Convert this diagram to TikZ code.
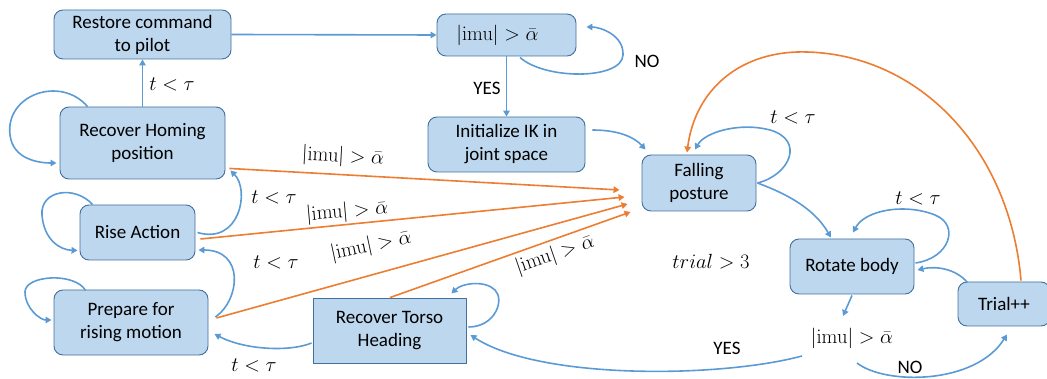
\RequirePackage{fix-cm}
\documentclass[tikz,border=0pt]{standalone}
\usepackage{amsmath}
\usepackage[no-math]{fontspec}
\setmainfont{Carlito}
\usetikzlibrary{arrows.meta,calc}
\definecolor{boxfill}{RGB}{189,215,238}
\definecolor{boxline}{RGB}{65,113,156}
\definecolor{conblue}{RGB}{91,155,213}
\definecolor{conorange}{RGB}{237,125,49}
\newcommand{\imuexpr}{{\fontsize{20.5}{24}\selectfont$\lvert\mathrm{imu}\rvert > \bar{\alpha}$}}
\newcommand{\tlt}{{\fontsize{20.5}{24}\selectfont$t < \tau$}}
\begin{document}
\begin{tikzpicture}[x=1pt,y=-1pt,
  every node/.style={font=\fontsize{19}{23}\selectfont, text=black},
  state/.style={draw=boxline, fill=boxfill, line width=0.9pt, rounded corners=9pt, align=center, inner sep=0pt},
  sqstate/.style={draw=boxline, fill=boxfill, line width=0.9pt, align=center, inner sep=0pt},
  bl/.style={draw=conblue, line width=1.6pt, -{Triangle[length=6pt,width=6.5pt]}},
  orl/.style={draw=conorange, line width=1.6pt, -{Triangle[length=6pt,width=6.5pt]}},
  lbl/.style={inner sep=1pt}]
\useasboundingbox (0,0) rectangle (1047,379);

% states
\node[state, minimum width=177pt, minimum height=49pt] (restore) at (142.5,34.5) {Restore command\\to pilot};
\node[state, minimum width=139pt, minimum height=42pt] (imubox) at (506.5,35) {\imuexpr\hspace*{18pt}};
\node[state, minimum width=157pt, minimum height=55pt] (initik) at (506.5,144.5) {Initialize IK in\\joint space};
\node[state, minimum width=165pt, minimum height=72pt] (homing) at (142.5,143) {Recover Homing\\position};
\node[state, minimum width=115pt, minimum height=55pt] (rise) at (137.5,232.5) {Rise Action};
\node[state, minimum width=154pt, minimum height=65pt] (prepare) at (131,322.5) {Prepare for\\rising motion};
\node[sqstate, minimum width=153pt, minimum height=65pt] (torso) at (389.5,330.5) {Recover Torso\\Heading};
\node[state, minimum width=114pt, minimum height=56pt] (falling) at (699,183) {Falling\\posture};
\node[state, minimum width=124pt, minimum height=55pt] (rotate) at (852,266.5) {Rotate body};
\node[state, minimum width=92pt, minimum height=44pt] (trial) at (1004,304) {Trial++};
\node[lbl] (imu2) at (852,338) {\imuexpr};
\node[lbl] (trialtxt) at (711,262) {{\fontsize{20.5}{24}\selectfont$trial > 3$}};

% blue connectors, top part
\draw[bl] (restore.east) -- (imubox.west);
\draw[bl] (homing.north) -- (restore.south);
\draw[bl] ($(homing.north west)+(28,0)$) .. controls (60,75) and (5,95) .. (10,135)
  .. controls (13,160) and (40,163) .. ($(homing.west)+(-3,20)$);
\draw[bl] ($(imubox.south)+(13.5,1)$) .. controls (545,80) and (622,80) .. (623,55)
  .. controls (624,35) and (600,27) .. ($(imubox.east)+(10,-8)$);
\draw[bl] (imubox.south) -- (initik.north);
\draw[bl] ($(initik.east)+(7,-14.5)$) .. controls (620,130) and (635,138) .. ($(falling.north west)+(4,-5)$);

% left side loops and returns
\draw[bl] ($(rise.north west)+(13,0)$) .. controls (75,185) and (40,190) .. (42,215)
  .. controls (44,240) and (60,250) .. ($(rise.south west)+(-2,-10)$);
\draw[bl] ($(prepare.north west)+(32,1)$) .. controls (75,272) and (25,275) .. (25,292)
  .. controls (25,308) and (40,320) .. ($(prepare.west)+(-2,-2.5)$);
\draw[bl] ($(rise.east)+(2,0)$) .. controls (240,245) and (250,190) .. ($(homing.south east)+(5,-9)$);
\draw[bl] ($(prepare.east)+(7,-5.5)$) .. controls (240,300) and (245,250) .. ($(rise.east)+(3,17.5)$);
\draw[bl] ($(torso.west)+(-1,12.5)$) .. controls (290,352) and (245,350) .. ($(prepare.east)+(6,11.5)$);
\draw[bl] ($(torso.east)+(2,-3.5)$) .. controls (495,327) and (505,300) .. (495,290)
  .. controls (485,280) and (462,283) .. ($(torso.north east)+(-15,-4)$);

% orange connectors to falling posture
\draw[orl] ($(homing.south east)+(4,-11)$) -- ($(falling.west)+(-22,7)$);
\draw[orl] ($(rise.east)+(5,6.5)$) -- ($(falling.west)+(-17,14)$);
\draw[orl] ($(prepare.east)+(8,-4.5)$) -- ($(falling.west)+(-14,21)$);
\draw[orl] ($(torso.north)+(0.5,0)$) -- ($(falling.west)+(-11,29)$);
\draw[orl] ($(trial.north)+(17,-1)$) .. controls (1010,150) and (920,55) .. (807,52)
  .. controls (740,50) and (695,90) .. ($(falling.north)+(-12,-2)$);

% right part
\draw[bl] ($(falling.east)+(1,0)$) .. controls (790,175) and (805,140) .. (770,130)
  .. controls (740,122) and (705,132) .. ($(falling.north)+(-4,-5)$);
\draw[bl] ($(falling.east)+(1,0)$) .. controls (790,195) and (815,210) .. ($(rotate.north)+(-21,-1)$);
\draw[bl] ($(rotate.east)+(1,-3.5)$) .. controls (950,258) and (960,225) .. (935,215)
  .. controls (905,203) and (865,210) .. ($(rotate.north)+(1,-6)$);
\draw[bl] ($(trial.north west)+(10,1)$) .. controls (955,268) and (935,266) .. ($(rotate.east)+(3,3.5)$);
\draw[bl] ($(rotate.south)+(0,1)$) -- ($(imu2.center)+(-9,-22)$);
\draw[bl] ($(imu2.center)+(-50,18)$) .. controls (720,378) and (540,380) .. ($(torso.east)+(4,4.5)$);
\draw[bl] ($(imu2.center)+(5,25)$) .. controls (885,385) and (975,385) .. ($(trial.south)+(3,8)$);

% labels
\node[lbl] (l1) at (172,84) {\tlt};
\node[lbl] (l2) at (647,61) {NO};
\node[lbl] (l3) at (487,88) {YES};
\node[lbl, rotate=-3] (l4) at (343,157) {\imuexpr};
\node[lbl] (l5) at (274,197) {\tlt};
\node[lbl, rotate=5] (l6) at (347,212) {\imuexpr};
\node[lbl] (l7) at (276,262) {\tlt};
\node[lbl, rotate=12] (l8) at (371,246) {\imuexpr};
\node[lbl, rotate=19] (l9) at (555,255) {\imuexpr};
\node[lbl] (l10) at (254,365) {\tlt};
\node[lbl] (l11) at (793,117) {\tlt};
\node[lbl] (l12) at (918,198) {\tlt};
\node[lbl] (l13) at (727,348) {YES};
\node[lbl] (l14) at (910,367) {NO};
\end{tikzpicture}
\end{document}
